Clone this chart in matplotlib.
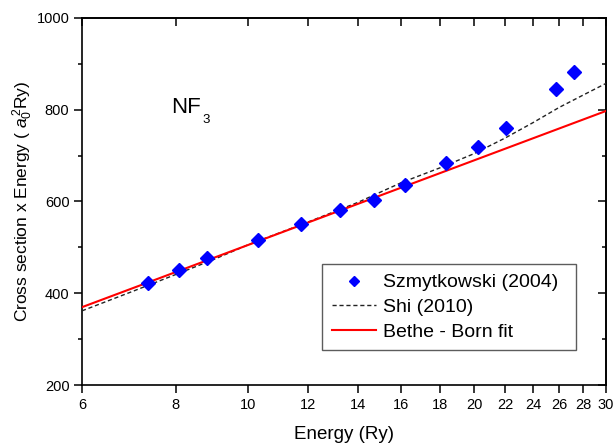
import matplotlib
matplotlib.use("Agg")
import matplotlib.pyplot as plt
from matplotlib.ticker import FixedLocator, NullLocator, FixedFormatter, MultipleLocator

plt.rcParams['font.family'] = ['Liberation Sans', 'DejaVu Sans']
plt.rcParams['mathtext.fontset'] = 'custom'
plt.rcParams['mathtext.rm'] = 'Liberation Sans'
plt.rcParams['mathtext.it'] = 'Liberation Sans:italic'

# Szmytkowski (2004) measurements
exp_energy = [7.35, 8.09, 8.82, 10.29, 11.76, 13.24, 14.71, 16.18, 18.38, 20.22, 22.06, 25.74, 27.21]
exp_sigma_e = [423, 451, 476, 517, 550, 581, 603, 636, 684, 718, 760, 844, 882]

# Shi (2010) curve
shi_energy = [6, 7, 8, 9, 10, 12, 14, 16, 18, 20, 22, 24, 26, 28, 30]
shi_sigma_e = [362, 404, 441, 474, 506, 555, 598, 641, 673, 704, 738, 772, 805, 832, 857]

# Bethe - Born fit (straight line in ln E)
fit_energy = [6, 30]
fit_sigma_e = [370, 797]

x_ticks = [6, 8, 10, 12, 14, 16, 18, 20, 22, 24, 26, 28, 30]

fig = plt.figure(figsize=(6.15, 4.45), dpi=100)
ax = fig.add_axes([0.1333, 0.1342, 0.852, 0.826])

ax.plot(exp_energy, exp_sigma_e, 'D', color='#0000ff', ms=7, mec='#0000ff',
        label='Szmytkowski (2004)', zorder=4)
ax.plot(shi_energy, shi_sigma_e, color='#222222', lw=1.0, dashes=(3, 2),
        label='Shi (2010)', zorder=3)
ax.plot(fit_energy, fit_sigma_e, color='#ff0000', lw=1.5,
        label='Bethe - Born fit', zorder=3)

ax.set_xscale('log')
ax.set_xlim(6, 30)
ax.set_ylim(200, 1000)
ax.xaxis.set_major_locator(FixedLocator(x_ticks))
ax.xaxis.set_major_formatter(FixedFormatter([str(t) for t in x_ticks]))
ax.xaxis.set_minor_locator(NullLocator())
ax.yaxis.set_major_locator(MultipleLocator(200))
ax.yaxis.set_minor_locator(MultipleLocator(100))

for s in ax.spines.values():
    s.set_linewidth(1.2)
    s.set_color('black')

ax.tick_params(which='both', labelsize=10.5, width=1.1, colors='black')
ax.tick_params(which='major', length=5.5)
ax.tick_params(which='minor', length=3)
ax.tick_params(axis='x', which='both', direction='out', top=False)
ax.tick_params(axis='y', which='both', direction='out', right=False)

# inward ticks on top and right, like the original
sec_x = ax.secondary_xaxis('top')
sec_x.set_xticks(x_ticks)
sec_x.xaxis.set_minor_locator(NullLocator())
sec_x.tick_params(direction='in', length=5.5, width=1.1, labeltop=False)
sec_x.spines['top'].set_linewidth(1.2)
sec_y = ax.secondary_yaxis('right')
sec_y.yaxis.set_major_locator(MultipleLocator(200))
sec_y.yaxis.set_minor_locator(MultipleLocator(100))
sec_y.tick_params(which='major', direction='in', length=5.5, width=1.1, labelright=False)
sec_y.tick_params(which='minor', direction='in', length=3, width=1.1)
sec_y.spines['right'].set_linewidth(1.2)

ax.set_xlabel('Energy (Ry)', fontsize=13.5, labelpad=10)
ax.set_ylabel('Cross section x Energy ( $a_0^{\\,2}$Ry)', fontsize=12.5, labelpad=1)

ax.text(7.9, 793, 'NF', fontsize=16, ha='left', va='baseline')
ax.annotate('3', xy=(7.9, 793), xytext=(22.3, -7.2), textcoords='offset points',
            fontsize=9.5, ha='left', va='baseline')

leg = ax.legend(loc='upper left', bbox_to_anchor=(0.458, 0.33, 0.485, 0.0), mode='expand',
                fontsize=14, frameon=True, fancybox=False, borderaxespad=0,
                handlelength=2.3, handletextpad=0.36, labelspacing=0.36,
                borderpad=0.5, markerscale=0.75)
leg.get_frame().set_edgecolor('#333333')
leg.get_frame().set_linewidth(1.0)

fig.savefig('out.png', dpi=100)
